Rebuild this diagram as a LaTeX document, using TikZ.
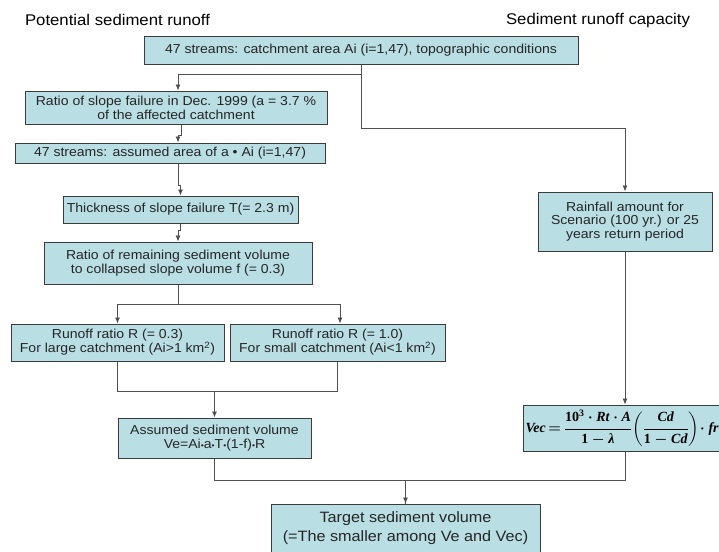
\documentclass[tikz,border=0pt]{standalone}
\usepackage{fontspec}
\setmainfont[FakeStretch=1.08]{Liberation Sans}
\newfontfamily\formfont{Liberation Serif}
\usepackage{amsmath}
\usetikzlibrary{positioning}
\usetikzlibrary{arrows.meta}
\definecolor{boxfill}{RGB}{185,222,228}
\definecolor{boxline}{RGB}{60,60,60}
\definecolor{wirecol}{RGB}{80,80,80}
\newcommand{\smalldot}{{\fontsize{8}{8}\selectfont •}}
\newcommand{\fv}[1]{\text{\formfont\bfseries\itshape #1}}
\newcommand{\fu}[1]{\text{\formfont\bfseries #1}}

\begin{document}
\begin{tikzpicture}[x=1pt,y=-1pt,
  box/.style={draw=boxline,line width=1pt,fill=boxfill,align=center,inner sep=0pt,
    font=\fontsize{13}{13.8}\selectfont,text=black!85},
  wire/.style={draw=wirecol,line width=0.8pt},
  arr/.style={wire,-{Latex[length=6pt,width=5pt]}},
  title/.style={font=\fontsize{15.5}{17}\selectfont}]
\useasboundingbox (0,0) rectangle (719,551);
\clip (0,0) rectangle (719,551);

% column headings
\node[title](potential) at (117.5,20){Potential sediment runoff};
\node[title](capacity) at (598,20){Sediment runoff capacity};

% potential sediment runoff
\node[box,minimum width=434pt,minimum height=27pt](catch) at (361,50.5){47 streams: catchment area Ai (i=1,47), topographic conditions};
\node[box,minimum width=302pt,minimum height=33pt](ratio) at (176,107.5){Ratio of slope failure in Dec. 1999 (a = 3.7 \%\\of the affected catchment};
\node[box,minimum width=310pt,minimum height=20pt](area) at (170,153){47 streams: assumed area of a • Ai (i=1,47)};
\node[box,minimum width=235pt,minimum height=27pt](thick) at (180.5,209.5){Thickness of slope failure T(= 2.3 m)};
\node[box,minimum width=268pt,minimum height=42pt](remain) at (178,263){Ratio of remaining sediment volume\\to collapsed slope volume f (= 0.3)};
\node[box,minimum width=213pt,minimum height=37pt](large) at (117.5,342.5){Runoff ratio R (= 0.3)\\For large catchment (Ai>1 km\textsuperscript{2})};
\node[box,minimum width=215pt,minimum height=37pt](small) at (337.5,342.5){Runoff ratio R (= 1.0)\\For small catchment (Ai<1 km\textsuperscript{2})};
\node[box,minimum width=193pt,minimum height=40pt](assumed) at (214.5,438){Assumed sediment volume\\Ve=Ai\smalldot a\smalldot T\smalldot(1-f)\smalldot R};

% sediment runoff capacity
\node[box,minimum width=174pt,minimum height=59pt](rain) at (625,221.5){Rainfall amount for\\Scenario (100 yr.) or 25\\years return period};
\node[box,anchor=west,minimum height=46pt,inner xsep=0pt,text=black,font=\fontsize{14}{16}\selectfont](vec) at (523,428){\hspace*{2pt}{\boldmath$\fv{Vec}\mkern-2mu=\mkern-2mu\dfrac{\fu{10}^{\fu{3}}\cdot\fv{Rt}\cdot\fv{A}}{\fu{1}-\fv{λ}}\!\left(\dfrac{\fv{Cd}}{\fu{1}-\fv{Cd}}\right)\!\cdot\fv{fr}$}\hspace*{30pt}};

% result
\node[box,minimum width=269pt,minimum height=49pt,font=\fontsize{15}{19}\selectfont](target) at (405.5,528.5){Target sediment volume\\(=The smaller among Ve and Vec)};

\draw[arr] (catch.south) -- ++(0,10) -| ([xshift=2pt]ratio.north);
\draw[arr] (catch.south) -- ++(0,64) -| (rain.north);
\draw[arr] ([xshift=5pt]ratio.south) -- ++(0,11) -| ([xshift=8pt]area.north);
\draw[arr] ([xshift=8pt]area.south) -- ++(0,22) -| (thick.north);
\draw[arr] (thick.south) -- ++(0,7) -| (remain.north);
\draw[wire] (remain.south) -- ++(0,20) coordinate(fork);
\draw[arr] (fork) -| (large.north);
\draw[arr] (fork) -| ([xshift=2.5pt]small.north);
\draw[wire] (large.south) -- ++(0,30) coordinate(joinL) -| (small.south);
\draw[arr] (assumed.north |- joinL) -- (assumed.north);
\draw[arr] (assumed.south) -- ++(0,22) -| (target.north);
\draw[arr] (rain.south) -- (rain.south |- vec.north);
\draw[wire] (rain.south |- vec.south) -- ++(0,29) -| (target.north);
\end{tikzpicture}
\end{document}
